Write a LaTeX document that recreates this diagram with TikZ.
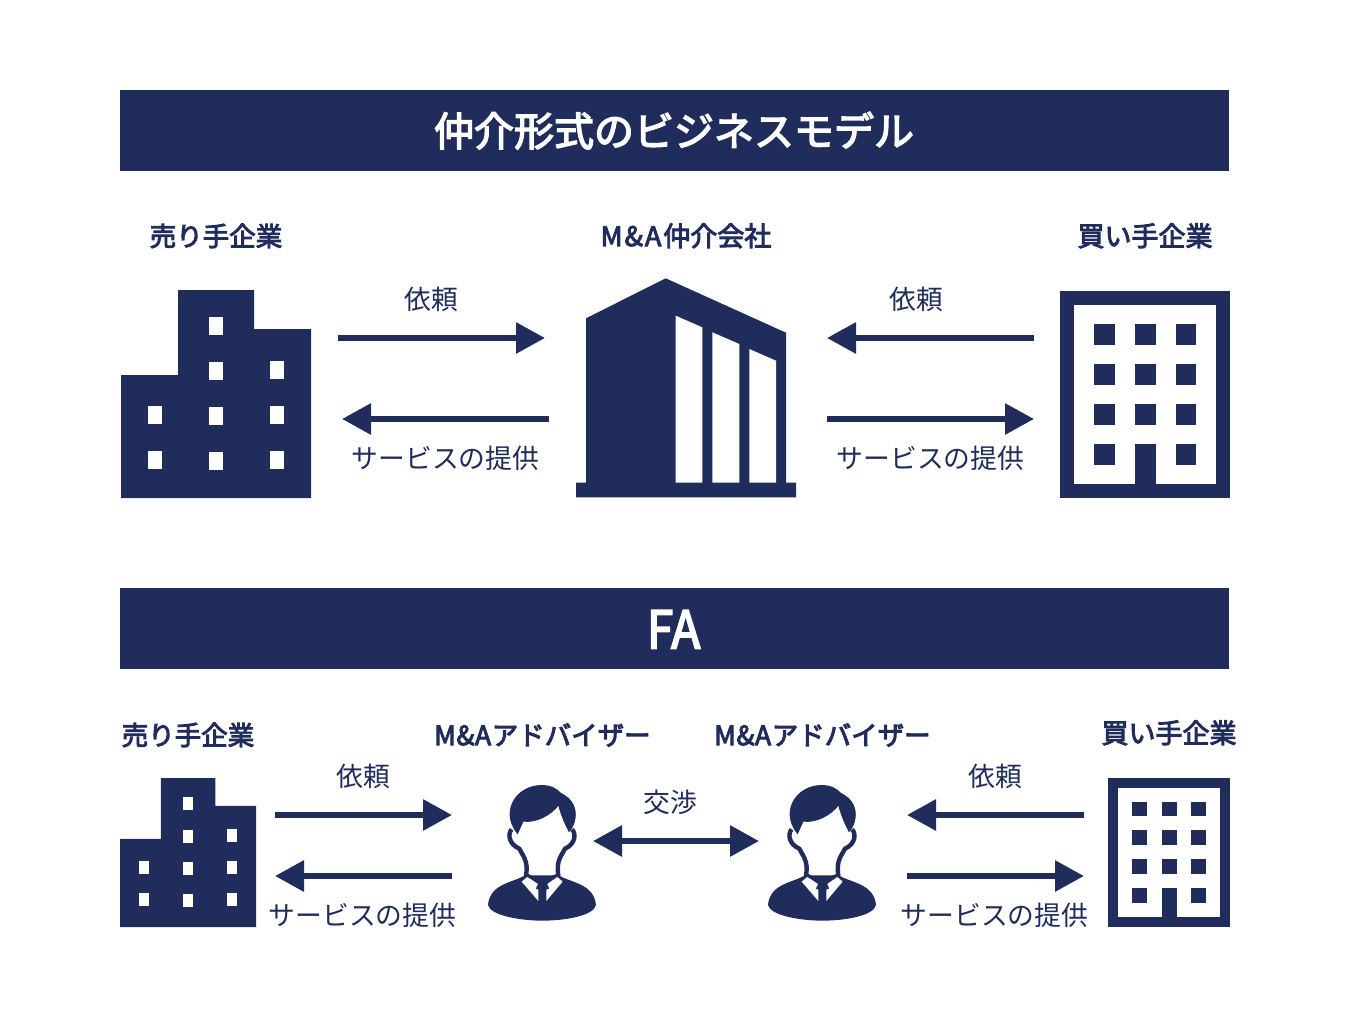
\documentclass[tikz,border=0pt]{standalone}
\usepackage{fontspec}
\setmainfont[BoldFont={Noto Sans CJK JP},BoldFeatures={FakeBold=3.5}]{Noto Sans CJK JP}
\usetikzlibrary{%
  arrows.meta,%
  positioning%
}
\definecolor{navy}{HTML}{1F2C5C}

\begin{document}
\begin{tikzpicture}[x=1pt,y=-1pt]
       \tikzset{banner/.style={rectangle, fill=navy, draw=none, minimum width=1109pt, minimum height=81pt, inner sep=0pt}}
       \tikzset{bannertext/.style={text=white, inner sep=0pt, font=\bfseries\fontsize{40}{44}\selectfont, text height=35pt, text depth=5pt}}
       \tikzset{party/.style={text=navy, inner sep=0pt, font=\bfseries\fontsize{26.5}{30}\selectfont, text height=23.3pt, text depth=3.2pt}}
       \tikzset{partywide/.style={party, font=\bfseries\fontsize{27}{30}\selectfont}}
       \tikzset{flowtext/.style={text=navy, inner sep=0pt, font=\fontsize{26.8}{30}\selectfont, text height=23.5pt, text depth=3.2pt}}
       \tikzset{flow/.style={draw=navy, line width=6pt, -{Triangle[length=29pt,width=30pt]}}}
       \tikzset{flowboth/.style={draw=navy, line width=6pt, {Triangle[length=29pt,width=30pt]}-{Triangle[length=29pt,width=30pt]}}}

       % icons, origin at the top left corner
       \tikzset{sellerbldg/.pic={
           \fill[navy] (57,0) -- (133,0) -- (133,39) -- (190,39) -- (190,208) -- (0,208) -- (0,85) -- (57,85) -- cycle;
           \fill[white] (87.5,27) rectangle ++(14.6,18);
           \fill[white] (87.5,72) rectangle ++(14.6,18);
           \fill[white] (87.5,117) rectangle ++(14.6,18);
           \fill[white] (87.5,162) rectangle ++(14.6,18);
           \fill[white] (26.5,116) rectangle ++(14.6,18);
           \fill[white] (26.5,161) rectangle ++(14.6,18);
           \fill[white] (148.7,71) rectangle ++(14.6,18);
           \fill[white] (148.7,116) rectangle ++(14.6,18);
           \fill[white] (148.7,161) rectangle ++(14.6,18);
       }}
       \tikzset{buyerbldg/.pic={
           \fill[navy] (0,0) rectangle (170,207);
           \fill[white] (13.5,13.5) rectangle (156,193);
           \fill[navy] (34,33) rectangle ++(20.5,20.5);
           \fill[navy] (75,33) rectangle ++(20.5,20.5);
           \fill[navy] (115.5,33) rectangle ++(20.5,20.5);
           \fill[navy] (34,73) rectangle ++(20.5,20.5);
           \fill[navy] (75,73) rectangle ++(20.5,20.5);
           \fill[navy] (115.5,73) rectangle ++(20.5,20.5);
           \fill[navy] (34,113) rectangle ++(20.5,20.5);
           \fill[navy] (75,113) rectangle ++(20.5,20.5);
           \fill[navy] (115.5,113) rectangle ++(20.5,20.5);
           \fill[navy] (34,153) rectangle ++(20.5,20.5);
           \fill[navy] (75,153) rectangle (95.5,195);
           \fill[navy] (115.5,153) rectangle ++(20.5,20.5);
       }}
       \tikzset{advisor/.pic={
           % shoulders
           \fill[navy] (165,316) .. controls (130,338) and (60,340) .. (54,405)
               .. controls (60,436) and (150,452) .. (216,452)
               .. controls (290,452) and (372,436) .. (378,405)
               .. controls (372,340) and (300,338) .. (267,316) -- cycle;
           % neck and ears
           \draw[navy, line width=4.4pt, line join=round] (125,178)
               .. controls (113,190) and (115,222) .. (148,236)
               .. controls (158,258) and (176,272) .. (168,316)
               -- (216,340) -- (265,316)
               .. controls (258,272) and (274,258) .. (285,236)
               .. controls (317,222) and (319,190) .. (306,178);
           % hair
           \fill[navy] (216,45) .. controls (160,45) and (118,85) .. (119,135)
               .. controls (120,155) and (126,172) .. (143,193) -- (160,155)
               .. controls (200,160) and (245,135) .. (265,107)
               .. controls (272,135) and (285,165) .. (297,187)
               .. controls (312,170) and (319,150) .. (317,125)
               .. controls (312,95) and (295,80) .. (272,68)
               .. controls (258,52) and (238,45) .. (216,45) -- cycle;
           % collar
           \fill[white] (155,335) -- (172,321) -- (204,342) -- (197,356) -- (205,359) -- (205,393) -- cycle;
           \fill[white] (278,335) -- (262,321) -- (232,342) -- (238,356) -- (229,359) -- (229,393) -- cycle;
       }}

       \useasboundingbox (0,0) rectangle (1350,1020);

       \node[banner] (topbar) at (674.5,130.5) {};
       \node[bannertext] (toptitle) at (674,131) {仲介形式のビジネスモデル};
       \node[banner] (fabar) at (674.5,628.5) {};
       \node[bannertext, font=\bfseries\fontsize{52}{56}\selectfont, text height=46pt, text depth=0pt] (fatitle) at (673.5,625.5) {\scalebox{.92}[1]{FA}};

       % upper row
       \node[party] (seller) at (216,236) {売り手企業};
       \node[party, font=\bfseries\fontsize{27}{30}\selectfont] (broker) at (686,236) {M\kern2pt\&\kern2pt A\kern2pt 仲介会社};
       \node[partywide] (buyer) at (1145,236) {買い手企業};

       \pic at (121,290) {sellerbldg};
       \pic at (1060,291) {buyerbldg};

       \fill[navy] (576,482.7) -- (586,482.7) -- (586,318.3) -- (665.7,278.3) -- (786,332.7) -- (786,482.7) -- (796,482.7) -- (796,497.3) -- (576,497.3) -- cycle;
       \fill[white] (675.7,315.7) -- (702.3,327.3) -- (702.3,482.7) -- (675.7,482.7) -- cycle;
       \fill[white] (712.3,332.3) -- (739.3,344) -- (739.3,482.7) -- (712.3,482.7) -- cycle;
       \fill[white] (749.3,349) -- (776,360.7) -- (776,482.7) -- (749.3,482.7) -- cycle;

       \coordinate (reqa) at (338,338);
       \coordinate (reqb) at (545,338);
       \coordinate (srva) at (549,419);
       \coordinate (srvb) at (342,419);
       \coordinate (reqc) at (1034,338);
       \coordinate (reqd) at (827,338);
       \coordinate (srvc) at (827,419);
       \coordinate (srvd) at (1034,419);

       \draw[flow] (reqa) -- (reqb);
       \draw[flow] (srva) -- (srvb);
       \draw[flow] (reqc) -- (reqd);
       \draw[flow] (srvc) -- (srvd);

       \node[flowtext] (reqtexta) at (431,299) {依頼};
       \node[flowtext] (srvtexta) at (445.5,458) {サービスの提供};
       \node[flowtext] (reqtextb) at (916,299) {依頼};
       \node[flowtext] (srvtextb) at (930.5,458) {サービスの提供};

       % lower row
       \node[party] (sellerfa) at (188,735) {売り手企業};
       \node[party] (advisora) at (542.5,735) {M\kern.6pt\&\kern.6pt A\kern.6pt アドバイザー};
       \node[party] (advisorb) at (822.5,735) {M\kern.6pt\&\kern.6pt A\kern.6pt アドバイザー};
       \node[partywide] (buyerfa) at (1169,733) {買い手企業};

       \pic[scale=0.717] at (120,778) {sellerbldg};
       \pic[scale=0.718] at (1108,778) {buyerbldg};
       \pic[scale=0.3333] at (470,770) {advisor};
       \pic[scale=0.3333] at (750,770) {advisor};

       \coordinate (reqe) at (275,815);
       \coordinate (reqf) at (452,815);
       \coordinate (srve) at (452,876);
       \coordinate (srvf) at (275,876);
       \coordinate (talka) at (593,841);
       \coordinate (talkb) at (759,841);
       \coordinate (reqg) at (1084,815);
       \coordinate (reqh) at (907,815);
       \coordinate (srvg) at (907,876);
       \coordinate (srvh) at (1084,876);

       \draw[flow] (reqe) -- (reqf);
       \draw[flow] (srve) -- (srvf);
       \draw[flowboth] (talka) -- (talkb);
       \draw[flow] (reqg) -- (reqh);
       \draw[flow] (srvg) -- (srvh);

       \node[flowtext] (reqtextc) at (363,776) {依頼};
       \node[flowtext] (srvtextc) at (362.5,915) {サービスの提供};
       \node[flowtext] (talktext) at (670,802) {交渉};
       \node[flowtext] (reqtextd) at (995,776) {依頼};
       \node[flowtext] (srvtextd) at (994.5,915) {サービスの提供};
\end{tikzpicture}
\end{document}
